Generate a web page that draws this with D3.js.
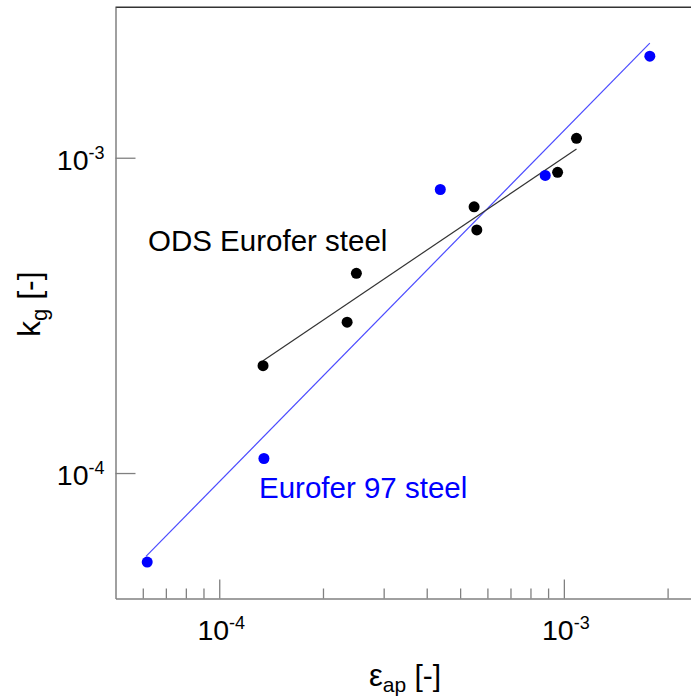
<!DOCTYPE html>
<html>
<head>
<meta charset="utf-8">
<script src="https://cdn.jsdelivr.net/npm/d3@7"></script>
<style>
  body { margin: 0; background: #fff; }
  svg { display: block; font-family: "Liberation Sans", Arial, sans-serif; }
</style>
</head>
<body>
<svg id="chart"></svg>
<script>
// data (log-log)
const odsX = [1.34e-4, 2.35e-4, 2.50e-4, 5.49e-4, 5.59e-4, 9.59e-4, 1.088e-3];
const odsY = [2.19e-4, 3.01e-4, 4.30e-4, 6.99e-4, 5.90e-4, 8.99e-4, 1.152e-3];
const e97X = [6.18e-5, 1.348e-4, 4.38e-4, 8.83e-4, 1.776e-3];
const e97Y = [5.22e-5, 1.112e-4, 7.93e-4, 8.79e-4, 2.10e-3];

// fitted power-law lines (end points)
const odsFitX = [1.34e-4, 1.088e-3];
const odsFitY = [2.27e-4, 1.066e-3];
const e97FitX = [6.13e-5, 1.776e-3];
const e97FitY = [5.44e-5, 2.31e-3];

// ticks
const xMajor = [1e-4, 1e-3];
const xMajorExp = ['-4', '-3'];
const xMinor = [6e-5, 7e-5, 8e-5, 9e-5, 2e-4, 3e-4, 4e-4, 5e-4, 6e-4, 7e-4, 8e-4, 9e-4, 2e-3];
const yMajor = [1e-4, 1e-3];
const yMajorExp = ['-4', '-3'];

const width = 691;
const height = 698;
const plot = { left: 115.5, top: 7.3, right: 701, bottom: 598.5 };

const svg = d3.select('#chart')
  .attr('width', width)
  .attr('height', height);

const xScale = d3.scaleLog()
  .domain([5e-5, 2.5e-3])
  .range([plot.left, plot.right]);

const yScale = d3.scaleLog()
  .domain([4e-5, 3e-3])
  .range([plot.bottom, plot.top]);

// top border
svg.append('line')
  .attr('x1', plot.left).attr('x2', plot.right)
  .attr('y1', plot.top).attr('y2', plot.top)
  .attr('stroke', '#333')
  .attr('stroke-width', 1.5);

// x axis: major + minor, ticks pointing inward
const gx = svg.append('g')
  .attr('transform', `translate(0, ${plot.bottom})`)
  .call(d3.axisBottom(xScale).tickValues(xMajor).tickSize(-19).tickSizeOuter(0).tickFormat(() => ''));

svg.append('g')
  .attr('transform', `translate(0, ${plot.bottom})`)
  .call(d3.axisBottom(xScale).tickValues(xMinor).tickSize(-10).tickSizeOuter(0).tickFormat(() => ''))
  .select('.domain').remove();

const gy = svg.append('g')
  .attr('transform', `translate(${plot.left}, 0)`)
  .call(d3.axisLeft(yScale).tickValues(yMajor).tickSize(-20).tickSizeOuter(0).tickFormat(() => ''));

svg.selectAll('.domain').attr('stroke', '#808080').attr('stroke-width', 1.5);
svg.selectAll('.tick line').attr('stroke', '#808080').attr('stroke-width', 1.3);
svg.selectAll('.tick text').remove();

// power-of-ten tick labels
gx.selectAll('.tick').each(function (d, i) {
  const t = d3.select(this).append('text')
    .attr('x', 1.5)
    .attr('y', 41)
    .attr('text-anchor', 'middle')
    .attr('fill', '#000')
    .style('font-size', '28.5px');
  t.append('tspan').text('10');
  t.append('tspan').attr('dy', -11).style('font-size', '18px').text(xMajorExp[i]);
});

gy.selectAll('.tick').each(function (d, i) {
  const t = d3.select(this).append('text')
    .attr('x', -11)
    .attr('y', 11.5)
    .attr('text-anchor', 'end')
    .attr('fill', '#000')
    .style('font-size', '28.5px');
  t.append('tspan').text('10');
  t.append('tspan').attr('dy', -11).style('font-size', '18px').text(yMajorExp[i]);
});

// axis titles
const xt = svg.append('text')
  .attr('x', 369)
  .attr('y', 686)
  .attr('fill', '#000')
  .style('font-size', '31px');
xt.append('tspan').text('\u03b5');
xt.append('tspan').attr('dy', 6).style('font-size', '21px').text('ap');
xt.append('tspan').attr('dy', -6).style('font-size', '30px').text(' [-]');

const yt = svg.append('text')
  .attr('transform', 'translate(40, 337) rotate(-90)')
  .attr('fill', '#000')
  .style('font-size', '32px');
yt.append('tspan').text('k');
yt.append('tspan').attr('dy', 7).style('font-size', '22px').text('g');
yt.append('tspan').attr('dy', -7).style('font-size', '32px').text(' [-]');

// fit lines
const line = d3.line()
  .x(d => xScale(d[0]))
  .y(d => yScale(d[1]));

svg.append('path')
  .datum(e97FitX.map((x, i) => [x, e97FitY[i]]))
  .attr('d', line)
  .attr('fill', 'none')
  .attr('stroke', '#4b4bff')
  .attr('stroke-width', 1.2);

svg.append('path')
  .datum(odsFitX.map((x, i) => [x, odsFitY[i]]))
  .attr('d', line)
  .attr('fill', 'none')
  .attr('stroke', '#333')
  .attr('stroke-width', 1.2);

// points
svg.append('g')
  .selectAll('circle')
  .data(odsX.map((x, i) => [x, odsY[i]]))
  .join('circle')
  .attr('cx', d => xScale(d[0]))
  .attr('cy', d => yScale(d[1]))
  .attr('r', 5.5)
  .attr('fill', '#000');

svg.append('g')
  .selectAll('circle')
  .data(e97X.map((x, i) => [x, e97Y[i]]))
  .join('circle')
  .attr('cx', d => xScale(d[0]))
  .attr('cy', d => yScale(d[1]))
  .attr('r', 5.5)
  .attr('fill', '#0000ff');

// series labels
svg.append('text')
  .attr('x', 148)
  .attr('y', 251)
  .attr('fill', '#000')
  .style('font-size', '29.5px')
  .text('ODS Eurofer steel');

svg.append('text')
  .attr('x', 259)
  .attr('y', 498)
  .attr('fill', '#0000ff')
  .style('font-size', '29.5px')
  .text('Eurofer 97 steel');
</script>
</body>
</html>
